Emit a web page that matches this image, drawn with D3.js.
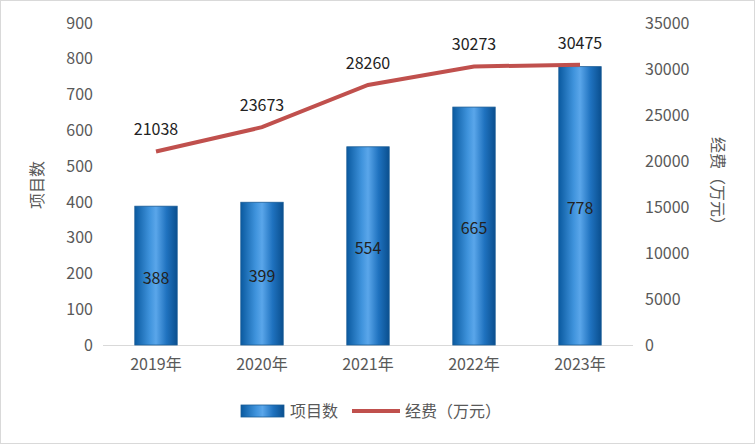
<!DOCTYPE html><html><head><meta charset="utf-8"><script src="https://cdn.jsdelivr.net/npm/d3@7"></script>
<style>body{margin:0;background:#fff}svg{font-family:"Noto Sans CJK SC","DejaVu Sans",sans-serif}</style></head><body><svg id="c" width="755" height="444"></svg><script>
const categories=["2019年","2020年","2021年","2022年","2023年"];
const projects=[388,399,554,665,778];
const funds=[21038,23673,28260,30273,30475];
const leftTicks=[0,100,200,300,400,500,600,700,800,900];
const rightTicks=[0,5000,10000,15000,20000,25000,30000,35000];
const svg=d3.select("#c");
svg.append("rect").attr("x",0.5).attr("y",0.5).attr("width",754).attr("height",443).attr("fill","#fff").attr("stroke","#d9d9d9");
const x=d3.scaleBand().domain(categories).range([103,633]).paddingInner(0.6).paddingOuter(0.3);
const yL=d3.scaleLinear().domain([0,900]).range([345,23]);
const yR=d3.scaleLinear().domain([0,35000]).range([345,23]);
const defs=svg.append("defs");
const g=defs.append("linearGradient").attr("id","bg");
[[0,"#0a5aa0"],[0.35,"#3f93dc"],[0.5,"#5aa6ea"],[0.75,"#1f72bf"],[1,"#0a4f8f"]].forEach(s=>g.append("stop").attr("offset",s[0]).attr("stop-color",s[1]));
svg.append("line").attr("x1",103).attr("x2",633).attr("y1",345.5).attr("y2",345.5).attr("stroke","#d9d9d9");
svg.selectAll(".b").data(projects).join("rect").attr("x",(d,i)=>x(categories[i])).attr("width",x.bandwidth())
 .attr("y",d=>yL(d)).attr("height",d=>345-yL(d)).attr("fill","url(#bg)").attr("stroke","#1a5c96").attr("stroke-width",0.8);
svg.selectAll(".bl").data(projects).join("text").attr("x",(d,i)=>x(categories[i])+x.bandwidth()/2).attr("y",d=>(yL(d)+345)/2+8)
 .attr("text-anchor","middle").attr("font-size",16).attr("fill","#222").text(d=>d);
const cx=i=>x(categories[i])+x.bandwidth()/2;
svg.append("path").datum(funds).attr("d",d3.line().x((d,i)=>cx(i)).y(d=>yR(d))).attr("fill","none").attr("stroke","#c0504d").attr("stroke-width",4);
svg.selectAll(".fl").data(funds).join("text").attr("x",(d,i)=>cx(i)).attr("y",d=>yR(d)-16).attr("text-anchor","middle").attr("font-size",16).attr("fill","#222").text(d=>d);
const aL=svg.append("g").attr("transform","translate(103,0)").call(d3.axisLeft(yL).tickValues(leftTicks).tickSize(0).tickPadding(10));
const aR=svg.append("g").attr("transform","translate(633,0)").call(d3.axisRight(yR).tickValues(rightTicks).tickFormat(d3.format("d")).tickSize(0).tickPadding(12));
const aX=svg.append("g").attr("transform","translate(0,345)").call(d3.axisBottom(x).tickSize(0).tickPadding(14));
[aL,aR,aX].forEach(a=>{a.select(".domain").remove();a.selectAll("text").attr("font-size",16).attr("fill","#595959").attr("font-family","'Noto Sans CJK SC',sans-serif");});
svg.append("text").attr("transform","translate(43,185) rotate(-90)").attr("text-anchor","middle").attr("font-size",16).attr("fill","#595959").text("项目数");
svg.append("text").attr("transform","translate(712,185) rotate(90)").attr("text-anchor","middle").attr("font-size",16).attr("fill","#595959").text("经费（万元）");
svg.append("rect").attr("x",241).attr("y",405).attr("width",43).attr("height",12).attr("fill","url(#bg)").attr("stroke","#1a5c96").attr("stroke-width",0.8);
svg.append("text").attr("x",290).attr("y",417).attr("font-size",16).attr("fill","#595959").text("项目数");
svg.append("line").attr("x1",352).attr("x2",400).attr("y1",411).attr("y2",411).attr("stroke","#c0504d").attr("stroke-width",4);
svg.append("text").attr("x",405).attr("y",417).attr("font-size",16).attr("fill","#595959").text("经费（万元）");
</script></body></html>
